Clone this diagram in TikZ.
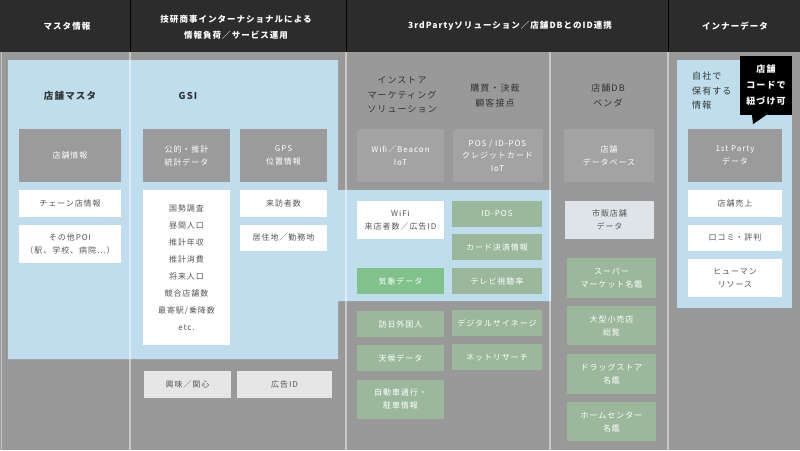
\documentclass[tikz,border=0pt]{standalone}
\usepackage{fontspec}
\setmainfont{Noto Sans CJK JP}[LetterSpace=12]
\usepackage{xcolor}
\usetikzlibrary{positioning}

\definecolor{bggray}{HTML}{999999}
\definecolor{headbg}{HTML}{2C2C2C}
\definecolor{skyblue}{HTML}{BFDDED}
\definecolor{boxgray}{HTML}{9B9B9B}
\definecolor{softgray}{HTML}{A3A3A3}
\definecolor{sagegreen}{HTML}{9BB89C}
\definecolor{leafgreen}{HTML}{80C18C}
\definecolor{palegray}{HTML}{E6E6E6}
\definecolor{paleblue}{HTML}{DEE4E8}
\definecolor{txtgray}{HTML}{555555}
\definecolor{titletxt}{HTML}{333333}

\begin{document}
\begin{tikzpicture}[
  x=1pt, y=-1pt,
  font=\fontsize{8}{13}\selectfont,
  box/.style={
    align=center,
    inner sep=0pt,
    minimum width=87pt,
    minimum height=26pt
  },
  graybox/.style={box, fill=boxgray, text=white, minimum height=53pt},
  softbox/.style={box, fill=softgray, text=white, minimum height=53pt},
  whitebox/.style={box, fill=white, text=txtgray},
  palebox/.style={box, fill=palegray, text=txtgray},
  greenbox/.style={box, fill=sagegreen, text=white},
  title/.style={align=center, inner sep=0pt, text=titletxt,
    font=\fontsize{9}{14.5}\selectfont},
  head/.style={align=center, inner sep=0pt, text=white,
    font=\bfseries\fontsize{8.5}{16}\selectfont},
  divider/.style={draw=white, draw opacity=0.45, line width=1.2pt},
  callout/.style={fill=black, text=white, align=center, inner sep=0pt,
    minimum width=52pt, minimum height=59pt,
    font=\bfseries\fontsize{9}{16}\selectfont}
]
  % background and header
  \useasboundingbox (0,0) rectangle (800,450);
  \fill[bggray] (0,0) rectangle (800,450);
  \fill[headbg] (0,0) rectangle (800,52);
  \foreach \x in {130,346,668}
    \draw[black, line width=0.8pt] (\x,0) -- (\x,52);

  % blue areas
  \fill[skyblue] (8,60) -- (338,60) -- (338,190) -- (551,190) -- (551,301)
    -- (338,301) -- (338,359) -- (8,359) -- cycle;
  \fill[skyblue] (677,60) rectangle (792,308);

  % column lines
  \draw[divider, line width=0.8pt] (1,52) -- (1,450);
  \foreach \x in {130,346,550,668}
    \draw[divider] (\x,52) -- (\x,450);

  % header texts
  \node[head] (h1) at (67,26) {マスタ情報};
  \node[head] (h2) at (236,27) {技研商事インターナショナルによる\\情報負荷／サービス運用};
  \node[head] (h3) at (510,26) {3rdPartyソリューション／店舗DBとのID連携};
  \node[head] (h4) at (735,26) {インナーデータ};

  % master column
  \node[title, font=\bfseries\fontsize{9.5}{14}\selectfont] (master) at (70,96) {店舗マスタ};
  \node[graybox, minimum width=102pt] (shopinfo) at (70,155.5) {店舗情報};
  \node[whitebox, minimum width=102pt, minimum height=27pt, below=8pt of shopinfo] (chain) {チェーン店情報};
  \node[whitebox, minimum width=102pt, minimum height=38pt, below=7pt of chain] (poi) {その他POI\\（駅、学校、病院…）};

  % GSI column
  \node[title, font=\bfseries\fontsize{9.5}{14}\selectfont] (gsi) at (188,96) {GSI};
  \node[graybox] (stat) at (186.5,155.5) {公的・推計\\統計データ};
  \node[whitebox, minimum height=155pt, below=8pt of stat,
    font=\fontsize{8}{17}\selectfont] (statlist)
    {国勢調査\\昼間人口\\推計年収\\推計消費\\将来人口\\競合店舗数\\最寄駅/乗降数\\etc.};
  \node[graybox] (gps) at (283.5,155.5) {GPS\\位置情報};
  \node[whitebox, minimum height=27pt, below=8pt of gps] (visit) {来訪者数};
  \node[whitebox, below=7pt of visit] (home) {居住地／勤務地};
  \node[palebox, minimum height=27pt] (interest) at (187.5,384.5) {興味／関心};
  \node[palebox, minimum width=95pt, minimum height=27pt] (adid) at (284.5,384.5) {広告ID};

  % 3rd party column
  \node[title] (instore) at (402,95) {インストア\\マーケティング\\ソリューション};
  \node[title] (purchase) at (495,95.5) {購買・決裁\\顧客接点};
  \node[softbox] (beacon) at (400.5,155.5) {Wifi／Beacon\\IoT};
  \node[softbox, minimum width=90pt, font=\fontsize{8}{12.5}\selectfont] (pos) at (497.5,155.5) {POS / ID-POS\\クレジットカード\\IoT};
  \node[whitebox, minimum height=38pt] (wifi) at (400.5,220) {WiFi\\来店者数／広告ID};
  \node[greenbox, minimum width=90pt] (idpos) at (497,214) {ID-POS};
  \node[greenbox, minimum width=90pt, below=7pt of idpos] (card) {カード決済情報};
  \node[greenbox, fill=leafgreen] (weather) at (400.5,281) {気象データ};
  \node[greenbox, minimum width=90pt] (tv) at (497,281) {テレビ視聴率};
  \node[greenbox] (tourist) at (400.5,324) {訪日外国人};
  \node[greenbox, below=8pt of tourist] (climate) {天候データ};
  \node[greenbox, minimum height=39pt, below=8pt of climate] (traffic) {自動車通行・\\駐車情報};
  \node[greenbox, minimum width=90pt] (signage) at (497,323) {デジタルサイネージ};
  \node[greenbox, minimum width=90pt, below=8pt of signage] (survey) {ネットリサーチ};

  % store DB vendor column
  \node[title] (vendor) at (608,95.5) {店舗DB\\ベンダ};
  \node[softbox, minimum width=90pt] (shopdb) at (609,155.5) {店舗\\データベース};
  \node[box, fill=paleblue, text=txtgray, minimum width=89pt, minimum height=38pt] (retail) at (609.5,220) {市販店舗\\データ};
  \node[greenbox, minimum width=89pt, minimum height=40pt] (super) at (611.5,278) {スーパー\\マーケット名鑑};
  \node[greenbox, minimum width=89pt, minimum height=39pt, below=8pt of super] (large) {大型小売店\\総覧};
  \node[greenbox, minimum width=89pt, minimum height=40pt, below=8pt of large] (drug) {ドラッグストア\\名鑑};
  \node[greenbox, minimum width=89pt, minimum height=39pt, below=8pt of drug] (home2) {ホームセンター\\名鑑};

  % inner data column
  \node[title, align=left, anchor=north west] (own) at (692,72) {自社で\\保有する\\情報};
  \node[graybox, minimum width=94pt] (first) at (735,155.5) {1st Party\\データ};
  \node[whitebox, minimum width=94pt, minimum height=27pt, below=8pt of first] (sales) {店舗売上};
  \node[whitebox, minimum width=94pt, below=7pt of sales] (review) {口コミ・評判};
  \node[whitebox, minimum width=94pt, minimum height=38pt, below=8pt of review] (human) {ヒューマン\\リソース};

  % callout
  \node[callout] (tag) at (766,85.5) {店舗\\コードで\\紐づけ可};
  \fill[black] ([xshift=-14pt]tag.south) -- (tag.south) -- ([xshift=-13pt,yshift=-9pt]tag.south) -- cycle;
\end{tikzpicture}
\end{document}
